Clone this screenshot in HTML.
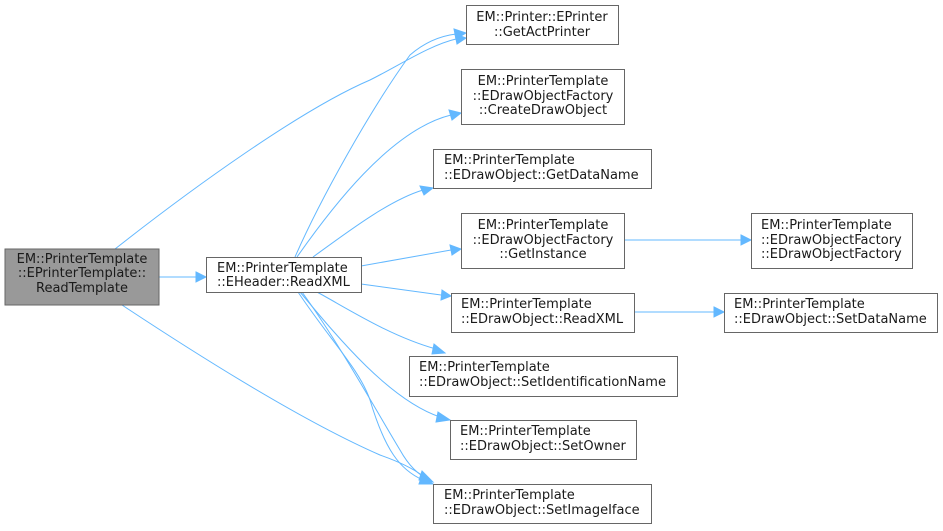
<!DOCTYPE html>
<html><head><meta charset="utf-8"><style>
html,body{margin:0;padding:0;background:#fff;}
svg{display:block;}
text{font-family:"DejaVu Sans","Liberation Sans",sans-serif;font-size:13px;fill:#1a1a1a;}
.n{fill:#fff;stroke:#666;stroke-width:1;}
.e{fill:none;stroke:#63b8ff;stroke-width:1;}
.a{fill:#63b8ff;stroke:#63b8ff;}
</style></head><body>
<svg width="943" height="531" viewBox="0 0 943 531" xmlns="http://www.w3.org/2000/svg">
<!-- edges -->
<path class="e" d="M159,277 L196,277"/><polygon class="a" points="196,272 206,277 196,282"/>
<path class="e" d="M115,249 C190,190 300,110 370,80 C400,65 430,45 456,39"/><polygon class="a" points="455,34 466,38 457,44"/>
<path class="e" d="M122,305 C190,350 300,420 380,455 C400,462 415,470 423,476"/><polygon class="a" points="422,471 433,482 419,480"/>
<path class="e" d="M295,257 C320,200 370,110 410,55 C425,42 440,36 456,34"/><polygon class="a" points="454,29 466,33 456,39"/>
<path class="e" d="M297,257 C330,210 390,130 451,115"/><polygon class="a" points="449,110 461,113 452,120"/>
<path class="e" d="M313,257 C350,230 390,200 423,190"/><polygon class="a" points="420,186 433,188 424,195"/>
<path class="e" d="M361,266 L451,250"/><polygon class="a" points="450,245 461,249 452,255"/>
<path class="e" d="M361,284 L441,295"/><polygon class="a" points="442,290 451,296 441,300"/>
<path class="e" d="M317,292 C350,310 390,336 436,349"/><polygon class="a" points="434,344 445,353 432,354"/>
<path class="e" d="M300,292 C340,340 390,400 440,417"/><polygon class="a" points="438,412 450,420 436,422"/>
<path class="e" d="M298,292 C330,340 360,370 370,400 C385,450 400,470 423,480"/><polygon class="a" points="422,475 433,484 419,484"/>
<path class="e" d="M302,292 C340,345 370,400 400,450 C410,468 420,476 430,480"/>
<path class="e" d="M624,240 L741,240"/><polygon class="a" points="741,235 751,240 741,245"/>
<path class="e" d="M634,312 L714,312"/><polygon class="a" points="714,307 724,312 714,317"/>
<!-- nodes -->
<rect x="5" y="249" width="154" height="56" fill="#999" stroke="#666"/>
<text text-anchor="middle" x="82" y="263">EM::PrinterTemplate</text>
<text text-anchor="middle" x="82" y="277">::EPrinterTemplate::</text>
<text text-anchor="middle" x="82" y="292">ReadTemplate</text>

<rect class="n" x="206.5" y="257.5" width="155" height="35"/>
<text x="217" y="272">EM::PrinterTemplate</text>
<text x="217" y="286">::EHeader::ReadXML</text>

<rect class="n" x="466.5" y="5.5" width="152" height="39"/>
<text text-anchor="middle" x="542" y="21">EM::Printer::EPrinter</text>
<text text-anchor="middle" x="542" y="36">::GetActPrinter</text>

<rect class="n" x="461.5" y="69.5" width="163" height="55"/>
<text text-anchor="middle" x="543" y="85">EM::PrinterTemplate</text>
<text text-anchor="middle" x="543" y="100">::EDrawObjectFactory</text>
<text text-anchor="middle" x="543" y="114">::CreateDrawObject</text>

<rect class="n" x="433.5" y="149.5" width="218" height="39"/>
<text x="444" y="164">EM::PrinterTemplate</text>
<text x="444" y="179">::EDrawObject::GetDataName</text>

<rect class="n" x="461.5" y="213.5" width="163" height="55"/>
<text text-anchor="middle" x="543" y="229">EM::PrinterTemplate</text>
<text text-anchor="middle" x="543" y="244">::EDrawObjectFactory</text>
<text text-anchor="middle" x="543" y="258">::GetInstance</text>

<rect class="n" x="751.5" y="213.5" width="161" height="55"/>
<text x="761" y="229">EM::PrinterTemplate</text>
<text x="761" y="244">::EDrawObjectFactory</text>
<text x="761" y="258">::EDrawObjectFactory</text>

<rect class="n" x="451.5" y="293.5" width="183" height="39"/>
<text x="461" y="308">EM::PrinterTemplate</text>
<text x="461" y="323">::EDrawObject::ReadXML</text>

<rect class="n" x="724.5" y="293.5" width="213" height="39"/>
<text x="734" y="308">EM::PrinterTemplate</text>
<text x="734" y="323">::EDrawObject::SetDataName</text>

<rect class="n" x="409.5" y="356.5" width="268" height="40"/>
<text x="419" y="371">EM::PrinterTemplate</text>
<text x="419" y="386">::EDrawObject::SetIdentificationName</text>

<rect class="n" x="450.5" y="420.5" width="186" height="39"/>
<text x="460" y="435">EM::PrinterTemplate</text>
<text x="460" y="450">::EDrawObject::SetOwner</text>

<rect class="n" x="433.5" y="484.5" width="218" height="39"/>
<text x="444" y="499">EM::PrinterTemplate</text>
<text x="444" y="514">::EDrawObject::SetImageIface</text>
</svg>
</body></html>
